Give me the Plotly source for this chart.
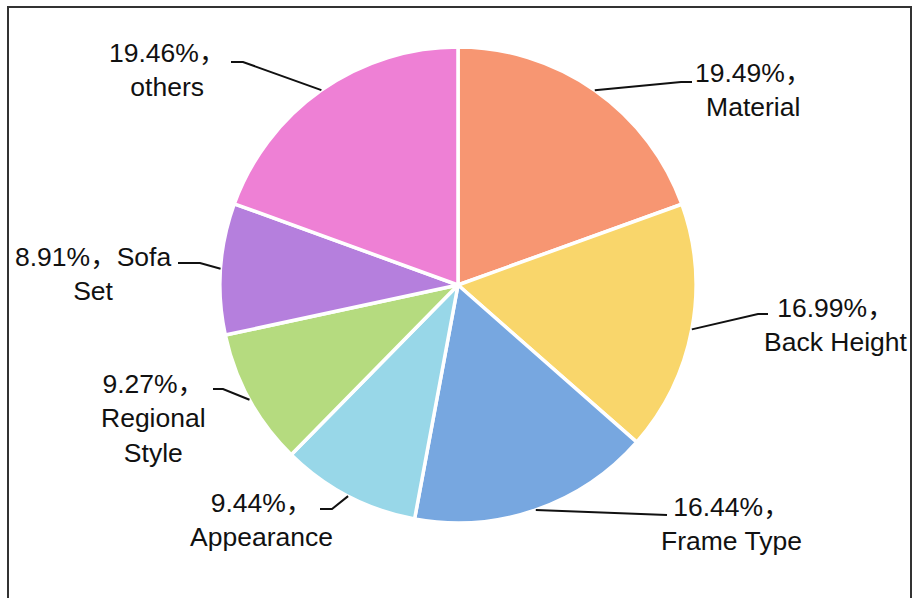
import math
import plotly.graph_objects as go

# Share of each purchase factor (%), in clockwise order from 12 o'clock
categories = ["Material", "Back Height", "Frame Type", "Appearance",
              "Regional Style", "Sofa Set", "others"]
shares = [19.49, 16.99, 16.44, 9.44, 9.27, 8.91, 19.46]
label_lines = [
    ["19.49%，", "Material"],
    ["16.99%，", "Back Height"],
    ["16.44%，", "Frame Type"],
    ["9.44%，", "Appearance"],
    ["9.27%，", "Regional", "Style"],
    ["8.91%，Sofa", "Set"],
    ["19.46%，", "others"],
]
colors = ["#F79672", "#F9D66B", "#77A7E0", "#98D7E8",
          "#B5DB7F", "#B57FDD", "#EE80D5"]

W, H = 915, 598
CX, CY, R = 458, 285, 238  # pie centre and radius in pixels

# Label block centre, elbow of the leader line, and end of its short tail (pixels)
label_pos = [(753, 90), (836, 325), (731, 524), (261, 520),
             (153, 418), (93, 274), (167, 70)]
elbows = [(681, 82), (758, 314), (667, 515), (332, 509),
          (223, 389), (200, 263), (243, 62)]
tails = [(692, 82), (768, 314), (667, 515), (320, 509),
         (213, 389), (178, 263), (231, 62)]


def px(x):
    return x / W


def py(y):
    return 1 - y / H


fig = go.Figure(go.Pie(
    labels=categories,
    values=shares,
    sort=False,
    direction="clockwise",
    rotation=0,
    textinfo="none",
    hoverinfo="label+percent",
    marker=dict(colors=colors, line=dict(color="white", width=3.5)),
    domain=dict(x=[px(CX - R), px(CX + R)], y=[py(CY + R), py(CY - R)]),
    showlegend=False,
))

shapes = []
annotations = []
total = sum(shares)
cum = 0.0
for i, v in enumerate(shares):
    mid = (cum + v / 2) / total * 2 * math.pi
    cum += v
    ex = CX + R * math.sin(mid)
    ey = CY - R * math.cos(mid)
    bx, by = elbows[i]
    tx, ty = tails[i]
    shapes.append(dict(
        type="path", xref="paper", yref="paper",
        path=f"M {px(ex)} {py(ey)} L {px(bx)} {py(by)} L {px(tx)} {py(ty)}",
        line=dict(color="#111111", width=2),
    ))
    lx, ly = label_pos[i]
    annotations.append(dict(
        x=px(lx), y=py(ly), xref="paper", yref="paper",
        xanchor="center", yanchor="middle", align="center",
        text="<br>".join(label_lines[i]), showarrow=False,
        font=dict(size=26.5, color="#111111",
                  family="Liberation Sans, Arial, Noto Sans CJK SC"),
    ))

# Frame around the chart (open at the bottom edge of the page)
shapes.append(dict(
    type="rect", xref="paper", yref="paper",
    x0=px(8), x1=px(911), y0=py(610), y1=py(7),
    line=dict(color="#333333", width=2), fillcolor="rgba(0,0,0,0)",
))

fig.update_layout(
    width=W, height=H,
    margin=dict(l=0, r=0, t=0, b=0),
    paper_bgcolor="white", plot_bgcolor="white",
    shapes=shapes, annotations=annotations,
)

fig.write_html("out.html")
